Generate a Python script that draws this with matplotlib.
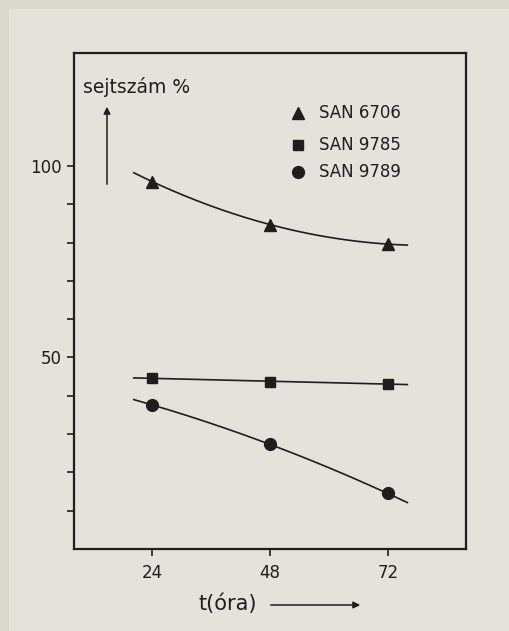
import matplotlib.pyplot as plt
import matplotlib.patches as mpatches
import numpy as np

# sejtszám (%) mérési pontok 24, 48 és 72 óránál
hours = [24, 48, 72]
san_6706 = [95.9, 84.7, 79.6]
san_9785 = [44.6, 43.7, 43.1]
san_9789 = [37.6, 27.3, 14.5]

series = [
    ("SAN 6706", san_6706, "^", 8, 2),
    ("SAN 9785", san_9785, "s", 7.5, 1),
    ("SAN 9789", san_9789, "o", 8.5, 2),
]

x_ticks = [24, 48, 72]
y_labels = {50: "50", 100: "100"}

paper = "#e5e2dc"
ink = "#1e1e1e"

fig = plt.figure(figsize=(5.10, 6.31), dpi=100, facecolor="#dcdace")
fig.patches.append(mpatches.Rectangle((0.018, 0.0), 0.982, 0.985, transform=fig.transFigure,
                                      facecolor=paper, edgecolor="none", zorder=-10))
ax = fig.add_axes([0.145, 0.130, 0.769, 0.786])
ax.set_facecolor(paper)

for name, vals, mk, ms, deg in series:
    # kiegyenlítő görbe a mért pontokra
    coef = np.polyfit(hours, vals, deg)
    tt = np.linspace(20.2, 76, 200)
    ax.plot(tt, np.polyval(coef, tt), color=ink, lw=1.2, zorder=2)
    ax.plot(hours, vals, linestyle="none", marker=mk, markersize=ms,
            color=ink, zorder=3)

ax.set_xlim(8, 88)
ax.set_ylim(0, 129.5)
ax.set_xticks(x_ticks)
ax.set_xticklabels([str(v) for v in x_ticks])
ax.set_yticks(range(10, 101, 10))
ax.set_yticklabels([y_labels.get(v, "") for v in range(10, 101, 10)])
ax.tick_params(direction="out", length=5, width=1.2, colors=ink,
               labelsize=12, pad=4)
ax.tick_params(axis="x", pad=6)
for sp in ax.spines.values():
    sp.set_linewidth(1.6)
    sp.set_color(ink)

# jelmagyarázat
leg_y = [113, 145, 172]
for (name, vals, mk, ms, deg), py in zip(series, leg_y):
    yf = 1 - py / 631
    fig.lines.append(plt.Line2D([298 / 510], [yf], transform=fig.transFigure,
                                marker=mk, markersize=ms, color=ink, linestyle="none"))
    fig.text(319 / 510, yf, name, fontsize=12, color=ink, va="center", ha="left")

# tengelyfeliratok nyilakkal
fig.text(83 / 510, 1 - 87 / 631, "sejtszám %", fontsize=13.5, color=ink,
         va="center", ha="left")
fig.add_artist(mpatches.FancyArrowPatch((107 / 510, 1 - 187 / 631), (107 / 510, 1 - 104 / 631),
                                        transform=fig.transFigure, arrowstyle="-|>",
                                        mutation_scale=10, lw=1.1, color=ink))
fig.text(199 / 510, 1 - 604 / 631, "t(óra)", fontsize=15, color=ink,
         va="center", ha="left")
fig.add_artist(mpatches.FancyArrowPatch((268 / 510, 1 - 605 / 631), (363 / 510, 1 - 605 / 631),
                                        transform=fig.transFigure, arrowstyle="-|>",
                                        mutation_scale=10, lw=1.1, color=ink))

fig.savefig("out.png", dpi=100, facecolor=fig.get_facecolor())
